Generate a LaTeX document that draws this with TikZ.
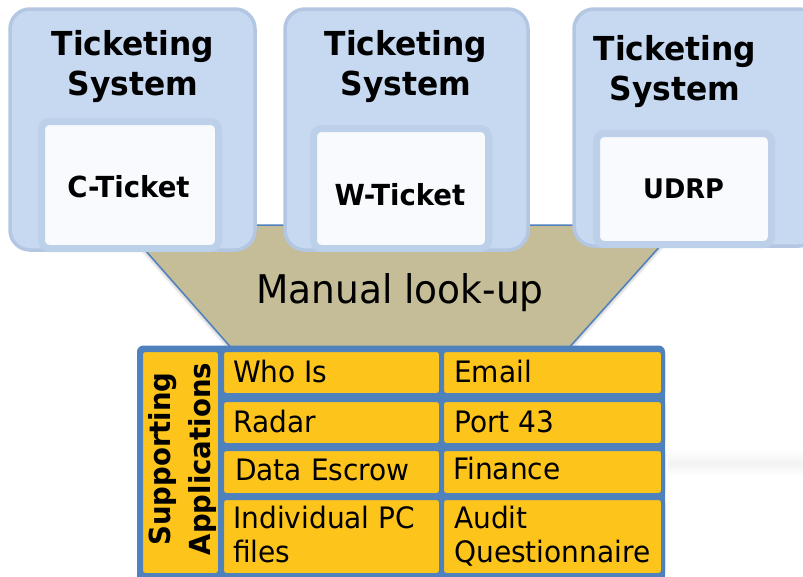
\documentclass[tikz,border=0pt]{standalone}
\usepackage{fontspec}
\setmainfont{DejaVu Sans}[FakeStretch=0.95]
\definecolor{sysfill}{HTML}{C6D9F1}
\definecolor{sysedge}{HTML}{B3C7E2}
\definecolor{paperfill}{HTML}{F8FAFD}
\definecolor{paperedge}{HTML}{BCD0EA}
\definecolor{funnel}{HTML}{C4BD97}
\definecolor{frameblue}{HTML}{4F81BD}
\definecolor{cellfill}{HTML}{FDC51C}
\tikzset{
  sysbox/.style={draw=sysedge, fill=sysfill, line width=3.5pt, rounded corners=20pt, inner sep=0pt},
  paperbox/.style={draw=paperedge, fill=paperfill, line width=7pt, rounded corners=8pt, inner sep=0pt},
  systitle/.style={font=\bfseries\fontsize{33}{40}\selectfont, align=center, inner sep=0pt, anchor=base},
  papertext/.style={font=\bfseries\fontsize{29}{34}\selectfont, inner sep=0pt, anchor=base},
  cell/.style={draw=frameblue, fill=cellfill, line width=4pt, rounded corners=4pt, inner sep=0pt},
  celltext/.style={font=\fontsize{29.5}{34}\selectfont, align=left, inner sep=0pt, anchor=base west},
}
\begin{document}
\begin{tikzpicture}[x=1pt, y=-1pt]
\clip (0,0) rectangle (803,576);
\fill[white] (0,0) rectangle (803,576);

% faint shadow band to the right of the table
\shade[top color=white, bottom color=white, middle color=black!5] (668,450) rectangle (803,476);

% funnel: soft shadow, then the funnel itself
\foreach \s/\o in {2/0.07,4/0.06,6/0.05}
  \fill[black, opacity=\o, yshift=-\s pt] (123,225) -- (679,225) -- (558,360) -- (242,360) -- cycle;
\fill[funnel] (123,225) -- (679,225) -- (558,360) -- (242,360) -- cycle;
\draw[frameblue, line width=1.5pt, line join=round] (242,360) -- (123,225) -- (679,225) -- (558,360);
\node[font=\fontsize{39.5}{48}\selectfont, inner sep=0pt, anchor=base] (lookup) at (400,303) {Manual look-up};

% ticketing systems
\node[sysbox, minimum width=245pt, minimum height=241pt] (sys1) at (132.5,129.5) {};
\node[sysbox, minimum width=243pt, minimum height=241pt] (sys2) at (406.5,129.5) {};
\node[sysbox, minimum width=245pt, minimum height=237pt] (sys3) at (696.5,127.5) {};

\node[paperbox, minimum width=177pt, minimum height=127pt] (paper1) at (130,185) {};
\node[paperbox, minimum width=175pt, minimum height=120pt] (paper2) at (401,188.5) {};
\node[paperbox, minimum width=175pt, minimum height=111pt] (paper3) at (684,189) {};

% the base anchor of a two-line node sits on its last line
\node[systitle] (title1) at (133,95) {Ticketing\\System};
\node[systitle] (title2) at (406,95) {Ticketing\\System};
\node[systitle] (title3) at (675,100) {Ticketing\\System};

\node[papertext] (ctk) at (128.5,197) {C-Ticket};
\node[papertext] (wtk) at (400,205) {W-Ticket};
\node[papertext, font=\bfseries\fontsize{27}{34}\selectfont] (udrp) at (683.5,198) {UDRP};

% supporting applications table
\node[draw=frameblue, fill=frameblue, rounded corners=6pt, line width=1pt, inner sep=0pt,
      minimum width=527pt, minimum height=236pt] (frame) at (401,464) {};
\node[cell, minimum width=79pt, minimum height=225pt] (side) at (180.5,462.5) {};
\node[font=\bfseries\fontsize{29}{40}\selectfont, align=center, rotate=90, inner sep=0pt] (sidetext) at (182,459) {Supporting\\Applications};

\node[cell, minimum width=219pt, minimum height=45pt] (c11) at (331.5,372.5) {};
\node[cell, minimum width=221pt, minimum height=45pt] (c12) at (552.5,372.5) {};
\node[cell, minimum width=219pt, minimum height=45pt] (c21) at (331.5,422.5) {};
\node[cell, minimum width=221pt, minimum height=45pt] (c22) at (552.5,422.5) {};
\node[cell, minimum width=219pt, minimum height=46pt] (c31) at (331.5,472) {};
\node[cell, minimum width=221pt, minimum height=46pt] (c32) at (552.5,472) {};
\node[cell, minimum width=219pt, minimum height=77pt] (c41) at (331.5,536.5) {};
\node[cell, minimum width=221pt, minimum height=77pt] (c42) at (552.5,536.5) {};

\node[celltext] (t11) at (233,382) {Who Is};
\node[celltext] (t12) at (454,382) {Email};
\node[celltext] (t21) at (233,432) {Radar};
\node[celltext] (t22) at (454,432) {Port 43};
\node[celltext] (t31) at (235,480) {Data Escrow};
\node[celltext] (t32) at (453,479) {Finance};
\node[celltext] (t41) at (233,562) {Individual PC\\files};
\node[celltext] (t42) at (454,562) {Audit\\Questionnaire};
\end{tikzpicture}
\end{document}
